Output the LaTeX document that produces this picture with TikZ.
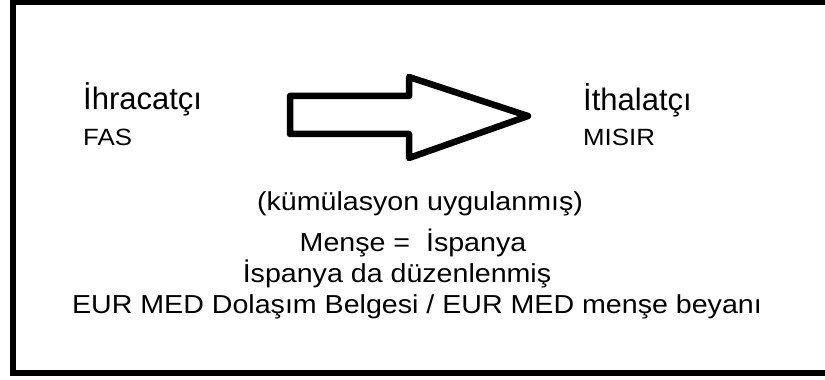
\documentclass[tikz,border=0pt]{standalone}
\usepackage{fontspec}
\usepackage{tikz}
\setmainfont{Liberation Sans}
\newfontfamily\widefont[FakeStretch=1.1]{Liberation Sans}
\newfontfamily\smallwidefont[FakeStretch=1.1]{Liberation Sans}
\definecolor{framegray}{RGB}{0,0,0}

\tikzset{
  headtext/.style={inner sep=0pt,font=\fontsize{31}{35}\selectfont},
  countrytext/.style={inner sep=0pt,font=\smallwidefont\fontsize{23.5}{27}\selectfont},
  notetext/.style={inner sep=0pt,font=\widefont\fontsize{26}{30}\selectfont},
}

\begin{document}
\begin{tikzpicture}[x=1pt,y=1pt]
\useasboundingbox (0,0) rectangle (825,380);
\draw [line width=6pt,framegray] (13,378) rectangle (832,7);
\draw [line width=6.5pt,line join=round]
  (290,284) -- (409,284) -- (409,303) -- (528,264) -- (409,222) -- (409,246) -- (290,246) -- cycle;
\node [headtext,anchor=base west] (ihr) at (83,270) {İhracatçı};
\node [countrytext,anchor=base west] (fas) at (83,234) {FAS};
\node [headtext,anchor=base west] (ith) at (583,269) {İthalatçı};
\node [countrytext,anchor=base west] (misir) at (583,234) {MISIR};
\node [notetext,anchor=base] (kum) at (420,169) {(kümülasyon uygulanmış)};
\node [notetext,anchor=base] (mense) at (413,128) {Menşe =\ \ İspanya};
\node [notetext,anchor=base] (ispanya) at (397,97) {İspanya da düzenlenmiş};
\node [notetext,anchor=base] (eur) at (417,66) {EUR MED Dolaşım Belgesi / EUR MED menşe beyanı};
\end{tikzpicture}
\end{document}
